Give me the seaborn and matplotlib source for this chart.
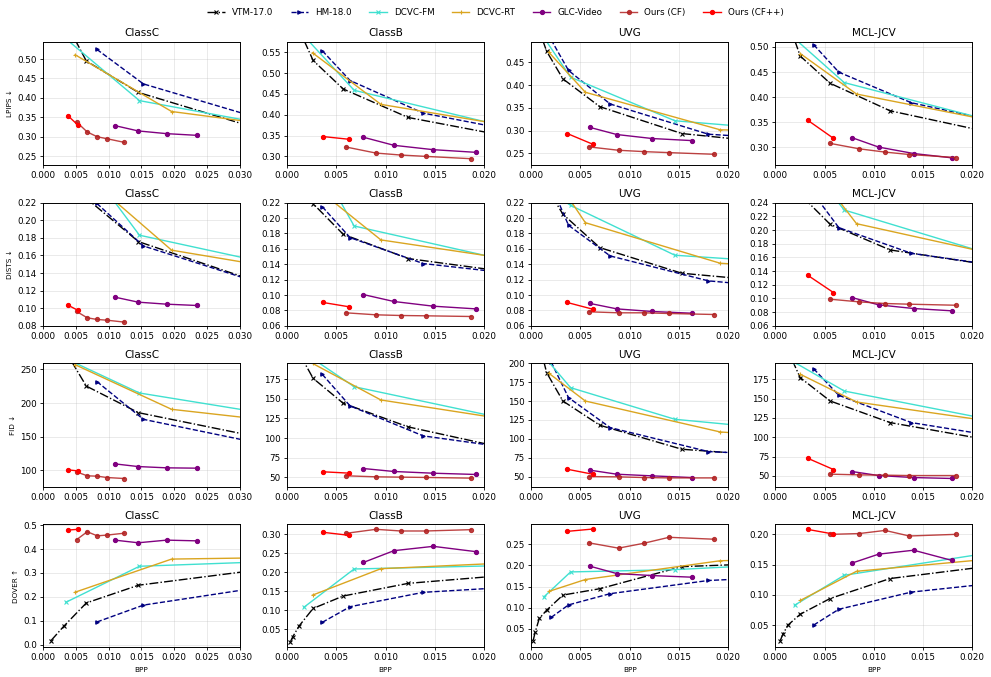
import matplotlib
matplotlib.use("Agg")
import matplotlib.pyplot as plt
from matplotlib.ticker import MultipleLocator
import seaborn as sns

# method order / styles
METHODS = ["VTM-17.0", "HM-18.0", "DCVC-FM", "DCVC-RT", "GLC-Video", "Ours (CF)", "Ours (CF++)"]
DATASETS = ["ClassC", "ClassB", "UVG", "MCL-JCV"]
METRICS = ["LPIPS ↓", "DISTS ↓", "FID ↓", "DOVER ↑"]

# ---- ClassC ----
CLASSC_BPP = {
    "VTM-17.0": [0.00122, 0.00314, 0.0066, 0.01455, 0.032],
    "HM-18.0": [0.0082, 0.0153, 0.035],
    "DCVC-FM": [0.0035, 0.0147, 0.032],
    "DCVC-RT": [0.0049, 0.0196, 0.032],
    "GLC-Video": [0.01095, 0.0145, 0.01885, 0.0235],
    "Ours (CF)": [0.00512, 0.00674, 0.00826, 0.00973, 0.0124],
    "Ours (CF++)": [0.0038, 0.00527],
}
CLASSC_LPIPS = {
    "VTM-17.0": [0.75, 0.606, 0.495, 0.414, 0.325],
    "HM-18.0": [0.525, 0.436, 0.3375],
    "DCVC-FM": [0.552, 0.393, 0.339],
    "DCVC-RT": [0.511, 0.365, 0.3375],
    "GLC-Video": [0.3287, 0.315, 0.308, 0.3036],
    "Ours (CF)": [0.338, 0.3123, 0.300, 0.295, 0.2855],
    "Ours (CF++)": [0.354, 0.331],
}
CLASSC_DISTS = {
    "VTM-17.0": [0.32, 0.27, 0.225, 0.1757, 0.1318],
    "HM-18.0": [0.2192, 0.1708, 0.124],
    "DCVC-FM": [0.295, 0.183, 0.155],
    "DCVC-RT": [0.261, 0.166, 0.1505],
    "GLC-Video": [0.1126, 0.1069, 0.1046, 0.1031],
    "Ours (CF)": [0.0963, 0.0891, 0.0872, 0.0864, 0.0842],
    "Ours (CF++)": [0.1035, 0.0978],
}
CLASSC_FID = {
    "VTM-17.0": [320, 281.6, 225.2, 185.6, 151],
    "HM-18.0": [232, 175.7, 136],
    "DCVC-FM": [266, 214.9, 187.5],
    "DCVC-RT": [257, 190.6, 177],
    "GLC-Video": [109.4, 105.4, 103.5, 103],
    "Ours (CF)": [97.5, 91.6, 91.1, 89.1, 87.6],
    "Ours (CF++)": [100.5, 99],
}
CLASSC_DOVER = {
    "VTM-17.0": [0.018, 0.077, 0.175, 0.249, 0.310],
    "HM-18.0": [0.0955, 0.166, 0.248],
    "DCVC-FM": [0.178, 0.328, 0.345],
    "DCVC-RT": [0.220, 0.358, 0.3628],
    "GLC-Video": [0.437, 0.426, 0.437, 0.434],
    "Ours (CF)": [0.439, 0.472, 0.455, 0.458, 0.466],
    "Ours (CF++)": [0.479, 0.482],
}

# ---- ClassB ----
CLASSB_BPP = {
    "VTM-17.0": [0.00034, 0.00058, 0.00122, 0.00264, 0.0057, 0.0123, 0.024],
    "HM-18.0": [0.00357, 0.0064, 0.01383, 0.024],
    "DCVC-FM": [0.0017, 0.00681, 0.024],
    "DCVC-RT": [0.00258, 0.00953, 0.024],
    "GLC-Video": [0.00775, 0.01085, 0.01485, 0.01919],
    "Ours (CF)": [0.00597, 0.00902, 0.01156, 0.01407, 0.01868],
    "Ours (CF++)": [0.00366, 0.0063],
}
CLASSB_LPIPS = {
    "VTM-17.0": [0.68, 0.66, 0.605, 0.5306, 0.462, 0.3935, 0.341],
    "HM-18.0": [0.554, 0.4823, 0.404, 0.3575],
    "DCVC-FM": [0.590, 0.4589, 0.3611],
    "DCVC-RT": [0.549, 0.425, 0.368],
    "GLC-Video": [0.346, 0.3266, 0.3161, 0.3097],
    "Ours (CF)": [0.3226, 0.308, 0.3032, 0.300, 0.2944],
    "Ours (CF++)": [0.3476, 0.3411],
}
CLASSB_DISTS = {
    "VTM-17.0": [0.30, 0.28, 0.25, 0.2187, 0.1789, 0.1474, 0.1273],
    "HM-18.0": [0.2148, 0.1746, 0.1409, 0.1263],
    "DCVC-FM": [0.306, 0.1897, 0.1402],
    "DCVC-RT": [0.243, 0.1716, 0.144],
    "GLC-Video": [0.1006, 0.0916, 0.0855, 0.082],
    "Ours (CF)": [0.0769, 0.0743, 0.0734, 0.073, 0.0721],
    "Ours (CF++)": [0.0903, 0.0847],
}
CLASSB_FID = {
    "VTM-17.0": [240, 225, 208.5, 176.3, 144.4, 114.2, 82],
    "HM-18.0": [181.4, 141, 102.7, 85],
    "DCVC-FM": [209, 165.6, 119.7],
    "DCVC-RT": [195.4, 148.6, 120.4],
    "GLC-Video": [61, 57.2, 55, 53.4],
    "Ours (CF)": [51.7, 50.4, 50, 49.6, 48.7],
    "Ours (CF++)": [56.8, 55.1],
}
CLASSB_DOVER = {
    "VTM-17.0": [0.0175, 0.0307, 0.059, 0.105, 0.1377, 0.171, 0.196],
    "HM-18.0": [0.0684, 0.1096, 0.1474, 0.163],
    "DCVC-FM": [0.108, 0.2088, 0.219],
    "DCVC-RT": [0.140, 0.2096, 0.2267],
    "GLC-Video": [0.226, 0.257, 0.2684, 0.2544],
    "Ours (CF)": [0.3026, 0.3132, 0.3088, 0.3088, 0.3123],
    "Ours (CF++)": [0.3053, 0.2974],
}

# ---- UVG ----
UVG_BPP = {
    "VTM-17.0": [0.0002, 0.0004, 0.00082, 0.00157, 0.00322, 0.00697, 0.0153, 0.025],
    "HM-18.0": [0.00202, 0.00379, 0.00802, 0.018, 0.025],
    "DCVC-FM": [0.00128, 0.004, 0.0146, 0.025],
    "DCVC-RT": [0.0018, 0.0055, 0.0192, 0.025],
    "GLC-Video": [0.006, 0.0087, 0.0123, 0.0163],
    "Ours (CF)": [0.0059, 0.00887, 0.01146, 0.014, 0.01862],
    "Ours (CF++)": [0.00366, 0.00625],
}
UVG_LPIPS = {
    "VTM-17.0": [0.56, 0.545, 0.52, 0.4744, 0.4138, 0.3526, 0.2935, 0.2722],
    "HM-18.0": [0.50, 0.4323, 0.3585, 0.292, 0.2825],
    "DCVC-FM": [0.505, 0.4175, 0.3216, 0.303],
    "DCVC-RT": [0.4721, 0.3843, 0.3017, 0.299],
    "GLC-Video": [0.3068, 0.2913, 0.2825, 0.278],
    "Ours (CF)": [0.264, 0.2567, 0.2537, 0.2515, 0.2478],
    "Ours (CF++)": [0.2935, 0.270],
}
UVG_DISTS = {
    "VTM-17.0": [0.32, 0.30, 0.27, 0.24, 0.205, 0.1616, 0.1283, 0.117],
    "HM-18.0": [0.243, 0.1906, 0.1508, 0.1184, 0.1105],
    "DCVC-FM": [0.24, 0.2165, 0.1517, 0.143],
    "DCVC-RT": [0.2645, 0.194, 0.1413, 0.1368],
    "GLC-Video": [0.089, 0.082, 0.0786, 0.0764],
    "Ours (CF)": [0.0782, 0.0769, 0.0769, 0.076, 0.0747],
    "Ours (CF++)": [0.0903, 0.0816],
}
UVG_FID = {
    "VTM-17.0": [260, 245, 226, 187.6, 150.1, 118, 86.2, 77],
    "HM-18.0": [202, 154.6, 114.9, 83.1, 79],
    "DCVC-FM": [209.6, 167.8, 125.9, 113],
    "DCVC-RT": [186.8, 150.1, 109.1, 104],
    "GLC-Video": [58.4, 53.1, 50.9, 48.7],
    "Ours (CF)": [50, 49.6, 48.7, 48.2, 48.2],
    "Ours (CF++)": [59.7, 53.1],
}
UVG_DOVER = {
    "VTM-17.0": [0.0228, 0.0422, 0.0749, 0.0944, 0.130, 0.145, 0.197, 0.2056],
    "HM-18.0": [0.0772, 0.1068, 0.1333, 0.1644, 0.172],
    "DCVC-FM": [0.1255, 0.1846, 0.190, 0.2022],
    "DCVC-RT": [0.1387, 0.1667, 0.211, 0.214],
    "GLC-Video": [0.1979, 0.1807, 0.176, 0.1722],
    "Ours (CF)": [0.2531, 0.2407, 0.2523, 0.2663, 0.2617],
    "Ours (CF++)": [0.2803, 0.2858],
}

# ---- MCL-JCV ----
MCL_BPP = {
    "VTM-17.0": [0.0005, 0.00078, 0.00128, 0.00253, 0.00557, 0.01166, 0.025],
    "HM-18.0": [0.00389, 0.00645, 0.01382, 0.025],
    "DCVC-FM": [0.00195, 0.0070, 0.025],
    "DCVC-RT": [0.00255, 0.00825, 0.025],
    "GLC-Video": [0.0078, 0.0105, 0.01405, 0.01795],
    "Ours (CF)": [0.00557, 0.00851, 0.01115, 0.01361, 0.01831],
    "Ours (CF++)": [0.00329, 0.00591],
}
MCL_LPIPS = {
    "VTM-17.0": [0.60, 0.58, 0.552, 0.4819, 0.4275, 0.3725, 0.316],
    "HM-18.0": [0.5047, 0.4497, 0.3886, 0.341],
    "DCVC-FM": [0.517, 0.4289, 0.337],
    "DCVC-RT": [0.4866, 0.406, 0.341],
    "GLC-Video": [0.3188, 0.30, 0.2872, 0.2785],
    "Ours (CF)": [0.3074, 0.2966, 0.29, 0.2852, 0.2792],
    "Ours (CF++)": [0.3537, 0.3175],
}
MCL_DISTS = {
    "VTM-17.0": [0.30, 0.285, 0.27, 0.252, 0.2084, 0.1709, 0.142],
    "HM-18.0": [0.253, 0.2035, 0.166, 0.143],
    "DCVC-FM": [0.32, 0.2293, 0.1509],
    "DCVC-RT": [0.316, 0.2093, 0.156],
    "GLC-Video": [0.1013, 0.0906, 0.0853, 0.0819],
    "Ours (CF)": [0.0989, 0.095, 0.0926, 0.0916, 0.0901],
    "Ours (CF++)": [0.1339, 0.1086],
}
MCL_FID = {
    "VTM-17.0": [235, 225, 212, 177.2, 147, 119, 89],
    "HM-18.0": [188.8, 154.3, 119, 96],
    "DCVC-FM": [197, 159.9, 115],
    "DCVC-RT": [181.5, 145.7, 115],
    "GLC-Video": [55.6, 50.4, 47.8, 46.6],
    "Ours (CF)": [52.2, 51.3, 50.9, 50.4, 50.4],
    "Ours (CF++)": [72.8, 58.2],
}
MCL_DOVER = {
    "VTM-17.0": [0.0244, 0.0353, 0.05, 0.068, 0.094, 0.127, 0.154],
    "HM-18.0": [0.05, 0.0762, 0.1046, 0.124],
    "DCVC-FM": [0.0828, 0.1324, 0.1775],
    "DCVC-RT": [0.0909, 0.139, 0.164],
    "GLC-Video": [0.1526, 0.1673, 0.1738, 0.1569],
    "Ours (CF)": [0.2, 0.2013, 0.2065, 0.1973, 0.2],
    "Ours (CF++)": [0.2082, 0.2005],
}

# Axis ranges
XMAX = {"ClassC": 0.030, "ClassB": 0.020, "UVG": 0.020, "MCL-JCV": 0.020}
YLIMS = {
    ("LPIPS ↓", "ClassC"): (0.227, 0.544), ("LPIPS ↓", "ClassB"): (0.279, 0.575),
    ("LPIPS ↓", "UVG"): (0.224, 0.495), ("LPIPS ↓", "MCL-JCV"): (0.264, 0.510),
    ("DISTS ↓", "ClassC"): (0.08, 0.22), ("DISTS ↓", "ClassB"): (0.06, 0.22),
    ("DISTS ↓", "UVG"): (0.06, 0.22), ("DISTS ↓", "MCL-JCV"): (0.06, 0.24),
    ("FID ↓", "ClassC"): (75.7, 259), ("FID ↓", "ClassB"): (38, 195.4),
    ("FID ↓", "UVG"): (36.8, 200), ("FID ↓", "MCL-JCV"): (36.2, 195.7),
    ("DOVER ↑", "ClassC"): (-0.0096, 0.504), ("DOVER ↑", "ClassB"): (0.003, 0.327),
    ("DOVER ↑", "UVG"): (0.007, 0.2975), ("DOVER ↑", "MCL-JCV"): (0.0135, 0.217),
}
YSTEP = {"LPIPS ↓": 0.05, "DISTS ↓": 0.02, "FID ↓": 25, "DOVER ↑": 0.05}

BPP = {"ClassC": CLASSC_BPP, "ClassB": CLASSB_BPP, "UVG": UVG_BPP, "MCL-JCV": MCL_BPP}
VALUES = {
    "ClassC": [CLASSC_LPIPS, CLASSC_DISTS, CLASSC_FID, CLASSC_DOVER],
    "ClassB": [CLASSB_LPIPS, CLASSB_DISTS, CLASSB_FID, CLASSB_DOVER],
    "UVG": [UVG_LPIPS, UVG_DISTS, UVG_FID, UVG_DOVER],
    "MCL-JCV": [MCL_LPIPS, MCL_DISTS, MCL_FID, MCL_DOVER],
}

STYLES = {
    "VTM-17.0": dict(color="black", linestyle="-.", marker="x", markersize=2.5),
    "HM-18.0": dict(color="navy", linestyle="--", marker=">", markersize=2.5),
    "DCVC-FM": dict(color="turquoise", linestyle="-", marker="x", markersize=2.5),
    "DCVC-RT": dict(color="goldenrod", linestyle="-", marker="+", markersize=3.5),
    "GLC-Video": dict(color="purple", linestyle="-", marker="o", markersize=3),
    "Ours (CF)": dict(color="firebrick", linestyle="-", marker="o", markersize=3, alpha=0.85),
    "Ours (CF++)": dict(color="red", linestyle="-", marker="o", markersize=3),
}
for st in STYLES.values():
    st["markeredgecolor"] = st["color"]
    st["markeredgewidth"] = 0.8

plt.rcParams['font.family'] = ['DejaVu Sans']

fig, axes = plt.subplots(4, 4, figsize=(9.91, 6.77), dpi=100)
fig.subplots_adjust(left=0.0434, right=0.981, top=0.938, bottom=0.044, wspace=0.24, hspace=0.305)

for r, metric in enumerate(METRICS):
    for c, ds in enumerate(DATASETS):
        ax = axes[r, c]
        for m in METHODS:
            sns.lineplot(x=BPP[ds][m], y=VALUES[ds][r][m], ax=ax, sort=False,
                         estimator=None, legend=False, linewidth=1.0, **STYLES[m])
        ax.set_xlim(0, XMAX[ds])
        ax.set_ylim(*YLIMS[(metric, ds)])
        ax.xaxis.set_major_locator(MultipleLocator(0.005))
        step = YSTEP[metric]
        if ds == "ClassC" and metric == "FID ↓":
            step = 50
        if ds == "ClassC" and metric == "DOVER ↑":
            step = 0.1
        ax.yaxis.set_major_locator(MultipleLocator(step))
        ax.set_title(ds, fontsize=7.5, pad=4)
        ax.grid(True, alpha=0.3, linewidth=0.6)
        ax.tick_params(labelsize=6.3, length=2.5, width=0.6, pad=2)
        for sp in ax.spines.values():
            sp.set_linewidth(0.7)
        ax.set_ylabel(metric if c == 0 else "", fontsize=5.2, labelpad=3)
        ax.set_xlabel("BPP" if r == 3 else "", fontsize=5.2, labelpad=3)

handles = axes[0, 0].get_lines()[:len(METHODS)]
fig.legend(handles, METHODS, loc="upper center", bbox_to_anchor=(0.5, 1.0), ncol=7,
           frameon=False, fontsize=6.3)

fig.savefig("out.png", dpi=100)
